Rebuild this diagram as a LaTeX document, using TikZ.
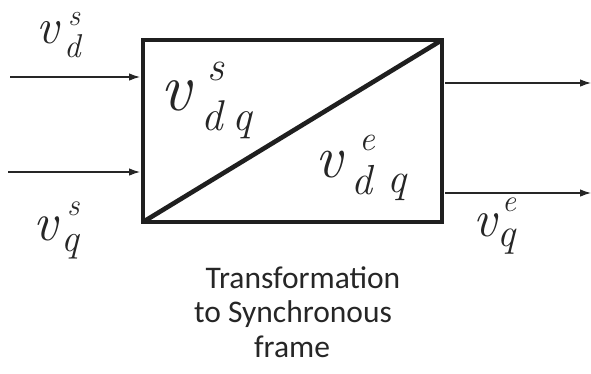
\documentclass[tikz,border=0pt]{standalone}
\usepackage{fontspec}
\newfontfamily\capfont{Carlito}
\usetikzlibrary{arrows.meta}
\newcommand{\fs}[1]{\fontsize{#1}{#1}\selectfont}
\newcommand{\vit}{\fontfamily{lmr}\selectfont\itshape}
\begin{document}
\begin{tikzpicture}[x=1pt,y=-1pt,
  boxline/.style={line width=4.6pt,line join=miter,color=black!88},
  sig/.style={line width=1.1pt,color=black!85,-{Latex[length=11pt,width=7.5pt]}},
  lbl/.style={inner sep=0pt,anchor=base west,color=black!85},
  captext/.style={inner sep=0pt,anchor=base,font=\capfont\fs{31.5},color=black!85}]
\useasboundingbox (0,0) rectangle (591,373);
% box
\coordinate (tl) at (143,40);
\coordinate (tr) at (442,40);
\coordinate (bl) at (143,222);
\coordinate (br) at (442,222);
\draw[boxline] (tl) -- (tr) -- (br) -- (bl) -- cycle;
\draw[boxline] (bl) -- (tr);
% signals
\coordinate (in1) at (10,77);  \coordinate (in1e) at (140,77);
\coordinate (in2) at (8,172);  \coordinate (in2e) at (140,172);
\coordinate (out1) at (445,83); \coordinate (out1e) at (591,83);
\coordinate (out2) at (445,193); \coordinate (out2e) at (591,193);
\draw[sig] (in1) -- (in1e);
\draw[sig] (in2) -- (in2e);
\draw[sig] (out1) -- (out1e);
\draw[sig] (out2) -- (out2e);
% v_d^s
\node[lbl,font=\vit\fs{50}] (vds) at (36,43) {v};
\node[lbl,font=\vit\fs{30}] (vdss) at (68,25) {s};
\node[lbl,font=\vit\fs{33}] (vdsd) at (64,57) {d};
% v_q^s
\node[lbl,font=\vit\fs{54}] (vqs) at (33,240) {v};
\node[lbl,font=\vit\fs{31}] (vqss) at (67,215) {s};
\node[lbl,font=\vit\fs{39}] (vqsq) at (61,251) {q};
% v_dq^s
\node[lbl,font=\vit\fs{68}] (vdqs) at (160,110) {v};
\node[lbl,font=\vit\fs{42}] (vdqss) at (207,80) {s};
\node[lbl,font=\vit\fs{43}] (vdqsd) at (201,130) {d};
\node[lbl,font=\vit\fs{43}] (vdqsq) at (232,130) {q};
% v_dq^e
\node[lbl,font=\vit\fs{60}] (vdqe) at (315,177) {v};
\node[lbl,font=\vit\fs{35}] (vdqee) at (359,150) {e};
\node[lbl,font=\vit\fs{42}] (vdqed) at (351,194) {d};
\node[lbl,font=\vit\fs{42}] (vdqeq) at (387,192) {q};
% v_q^e
\node[lbl,font=\vit\fs{52}] (vqe) at (473,236) {v};
\node[lbl,font=\vit\fs{31}] (vqee) at (502,211) {e};
\node[lbl,font=\vit\fs{40}] (vqeq) at (497,246) {q};
% caption
\node[captext] (c1) at (303,288) {Transformation};
\node[captext] (c2) at (293,322) {to Synchronous};
\node[captext] (c3) at (292,357) {frame};
\end{tikzpicture}
\end{document}
